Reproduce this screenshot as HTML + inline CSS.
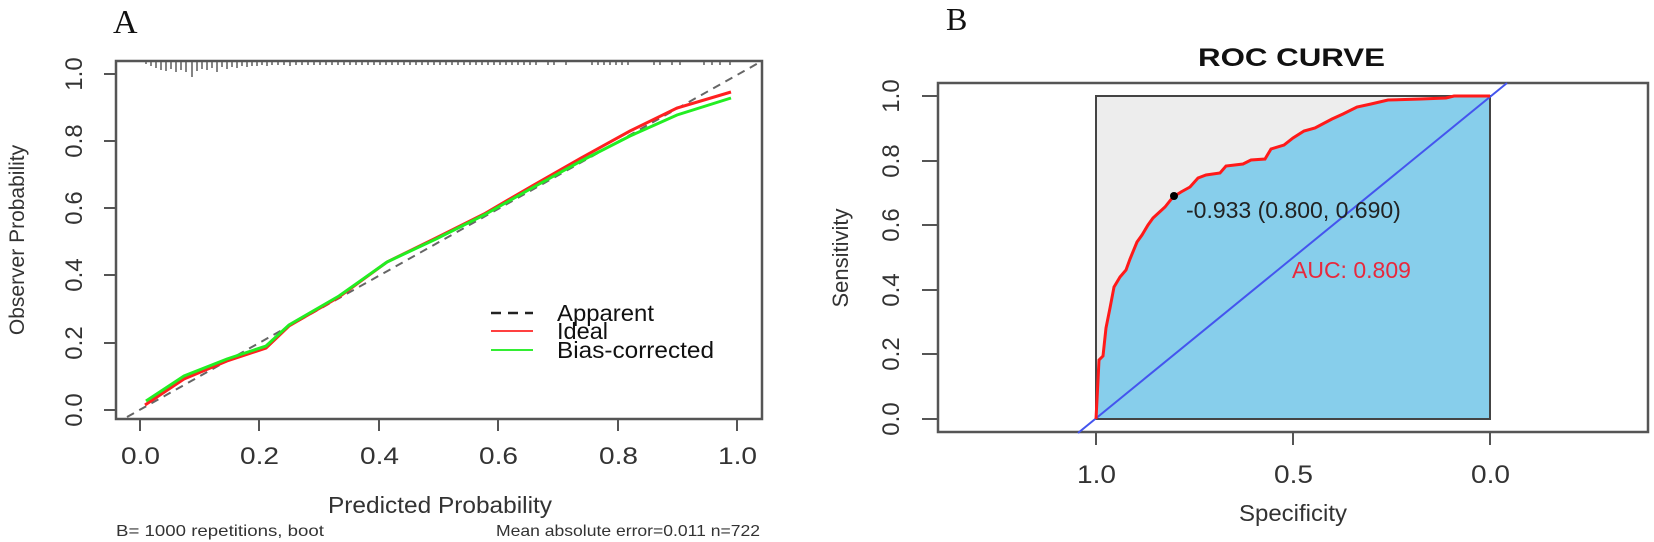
<!DOCTYPE html>
<html><head><meta charset="utf-8"><style>
html,body{margin:0;padding:0;background:#fff;}
svg{display:block;font-family:"Liberation Sans",Arial,sans-serif;}
</style></head><body>
<svg width="1654" height="542" viewBox="0 0 1654 542" xmlns="http://www.w3.org/2000/svg">
<!-- Panel A -->
<text x="113" y="33" font-family="Liberation Serif,serif" font-size="34" fill="#111">A</text>
<rect x="116" y="61" width="646" height="358" fill="none" stroke="#555" stroke-width="2.5"/>
<path stroke="#666" stroke-width="1.6" fill="none" d="M146 62v2M151 62v4M156 62v6M161 62v8M166 62v9M171 62v7M176 62v10M181 62v8M186 62v10M192 62v15M197 62v9M202 62v7M207 62v8M212 62v6M217 62v10M222 62v5M227 62v7M232 62v5M237 62v6M242 62v4M247 62v5M252 62v4M257 62v4M262 62v3M267 62v4M272 62v3M278 62v3M284 62v3M290 62v4M296 62v3M302 62v3M308 62v3M314 62v3M320 62v3M326 62v3M332 62v3M338 62v3M344 62v3M350 62v3M356 62v3M362 62v3M368 62v3M374 62v3M380 62v3M386 62v3M392 62v3M398 62v3M404 62v3M410 62v3M416 62v3M422 62v3M428 62v3M434 62v3M440 62v3M446 62v3M452 62v3M458 62v3M464 62v3M470 62v3M476 62v3M482 62v3M488 62v3M494 62v3M500 62v3M506 62v3M512 62v3M518 62v3M524 62v3M530 62v3M536 62v3M548 62v3M554 62v3M566 62v3M592 62v3M598 62v3M604 62v3M610 62v3M616 62v3M622 62v3M628 62v3M654 62v3M660 62v3M672 62v3M680 62v3M704 62v3M712 62v3M720 62v3M730 62v3"/>
<g stroke="#555" stroke-width="2">
<path d="M104 410h12M104 343h12M104 275h12M104 208h12M104 141h12M104 74h12"/>
<path d="M140 419v12M259 419v12M379 419v12M498 419v12M618 419v12M737 419v12"/>
</g>
<g font-size="24" fill="#333" text-anchor="middle">
<text transform="translate(82,410) rotate(-90)">0.0</text>
<text transform="translate(82,343) rotate(-90)">0.2</text>
<text transform="translate(82,275) rotate(-90)">0.4</text>
<text transform="translate(82,208) rotate(-90)">0.6</text>
<text transform="translate(82,141) rotate(-90)">0.8</text>
<text transform="translate(82,74) rotate(-90)">1.0</text>
</g>
<g font-size="24" fill="#333">
<text x="121" y="464" textLength="39" lengthAdjust="spacingAndGlyphs">0.0</text>
<text x="240" y="464" textLength="39" lengthAdjust="spacingAndGlyphs">0.2</text>
<text x="360" y="464" textLength="39" lengthAdjust="spacingAndGlyphs">0.4</text>
<text x="479" y="464" textLength="39" lengthAdjust="spacingAndGlyphs">0.6</text>
<text x="599" y="464" textLength="39" lengthAdjust="spacingAndGlyphs">0.8</text>
<text x="718" y="464" textLength="39" lengthAdjust="spacingAndGlyphs">1.0</text>
</g>
<text x="328" y="513" font-size="23" fill="#333" textLength="224" lengthAdjust="spacingAndGlyphs">Predicted Probability</text>
<text transform="translate(24,240) rotate(-90)" font-size="21" fill="#333" text-anchor="middle">Observer Probability</text>
<text x="116" y="536" font-size="16" fill="#333" textLength="208" lengthAdjust="spacingAndGlyphs">B= 1000 repetitions, boot</text>
<text x="496" y="536" font-size="16" fill="#333" textLength="264" lengthAdjust="spacingAndGlyphs">Mean absolute error=0.011 n=722</text>
<line x1="127" y1="417" x2="762" y2="61" stroke="#666" stroke-width="2" stroke-dasharray="8,6"/>
<polyline fill="none" stroke="#ff2020" stroke-width="3" points="145,405 184,379 227,361 266,348 289,326 339,297 387,262 436,238 484,214 532,186 581,158 630,131 677,108 731,92"/>
<polyline fill="none" stroke="#22ee22" stroke-width="3" points="146,401 184,376 227,359 266,346 289,325 339,296 387,262 436,239 484,215 532,188 581,161 630,136 677,115 731,98"/>
<g font-size="23" fill="#111">
<line x1="491" y1="313" x2="533" y2="313" stroke="#222" stroke-width="2.5" stroke-dasharray="10,7"/>
<line x1="491" y1="331" x2="533" y2="331" stroke="#ff4040" stroke-width="2"/>
<line x1="491" y1="350" x2="533" y2="350" stroke="#33ee33" stroke-width="2"/>
<text x="557" y="321" textLength="97" lengthAdjust="spacingAndGlyphs">Apparent</text>
<text x="557" y="339" textLength="51" lengthAdjust="spacingAndGlyphs">Ideal</text>
<text x="557" y="358" textLength="157" lengthAdjust="spacingAndGlyphs">Bias-corrected</text>
</g>
<!-- Panel B -->
<text x="946" y="30" font-family="Liberation Serif,serif" font-size="32" fill="#111">B</text>
<text x="1198" y="66" font-size="25" font-weight="bold" fill="#111" textLength="187" lengthAdjust="spacingAndGlyphs">ROC CURVE</text>
<rect x="938" y="83" width="710" height="349" fill="none" stroke="#555" stroke-width="2.5"/>
<rect x="1096" y="96" width="394" height="323" fill="#ededed" stroke="#444" stroke-width="2"/>
<polygon fill="#87ceeb" points="1096,419 1098,380 1099,360 1103,356 1106,328 1110,308 1114,287 1120,277 1126,270 1130,259 1137,242 1142,235 1148,225 1153,218 1165,207 1173,197 1181,192 1190,187 1198,178 1206,175 1220,173 1226,166 1243,164 1251,160 1265,159 1271,149 1284,145 1293,138 1304,131 1315,128 1332,119 1343,114 1357,107 1371,104 1388,100 1421,99 1446,98 1454,96 1490,96 1490,419"/>
<line x1="1490" y1="96" x2="1490" y2="419" stroke="#444" stroke-width="2"/>
<line x1="1096" y1="419" x2="1490" y2="419" stroke="#444" stroke-width="2"/>
<line x1="1078" y1="433" x2="1507" y2="83" stroke="#4455ee" stroke-width="2"/>
<polyline fill="none" stroke="#ff1a1a" stroke-width="3" points="1096,419 1098,380 1099,360 1103,356 1106,328 1110,308 1114,287 1120,277 1126,270 1130,259 1137,242 1142,235 1148,225 1153,218 1165,207 1173,197 1181,192 1190,187 1198,178 1206,175 1220,173 1226,166 1243,164 1251,160 1265,159 1271,149 1284,145 1293,138 1304,131 1315,128 1332,119 1343,114 1357,107 1371,104 1388,100 1421,99 1446,98 1454,96 1490,96"/>
<circle cx="1174" cy="196" r="4" fill="#000"/>
<text x="1186" y="218" font-size="23" fill="#222">-0.933 (0.800, 0.690)</text>
<text x="1292" y="278" font-size="23" fill="#e8283c">AUC: 0.809</text>
<g stroke="#555" stroke-width="2">
<path d="M922 419h16M922 354h16M922 290h16M922 225h16M922 161h16M922 96h16"/>
<path d="M1096 432v13M1293 432v13M1490 432v13"/>
</g>
<g font-size="24" fill="#333" text-anchor="middle">
<text transform="translate(899,419) rotate(-90)">0.0</text>
<text transform="translate(899,354) rotate(-90)">0.2</text>
<text transform="translate(899,290) rotate(-90)">0.4</text>
<text transform="translate(899,225) rotate(-90)">0.6</text>
<text transform="translate(899,161) rotate(-90)">0.8</text>
<text transform="translate(899,96) rotate(-90)">1.0</text>
</g>
<g font-size="25" fill="#333">
<text x="1077" y="483" textLength="39" lengthAdjust="spacingAndGlyphs">1.0</text>
<text x="1274" y="483" textLength="39" lengthAdjust="spacingAndGlyphs">0.5</text>
<text x="1471" y="483" textLength="39" lengthAdjust="spacingAndGlyphs">0.0</text>
</g>
<text x="1239" y="521" font-size="23" fill="#333" textLength="108" lengthAdjust="spacingAndGlyphs">Specificity</text>
<text transform="translate(848,258) rotate(-90)" font-size="22" fill="#333" text-anchor="middle">Sensitivity</text>
</svg>
</body></html>
